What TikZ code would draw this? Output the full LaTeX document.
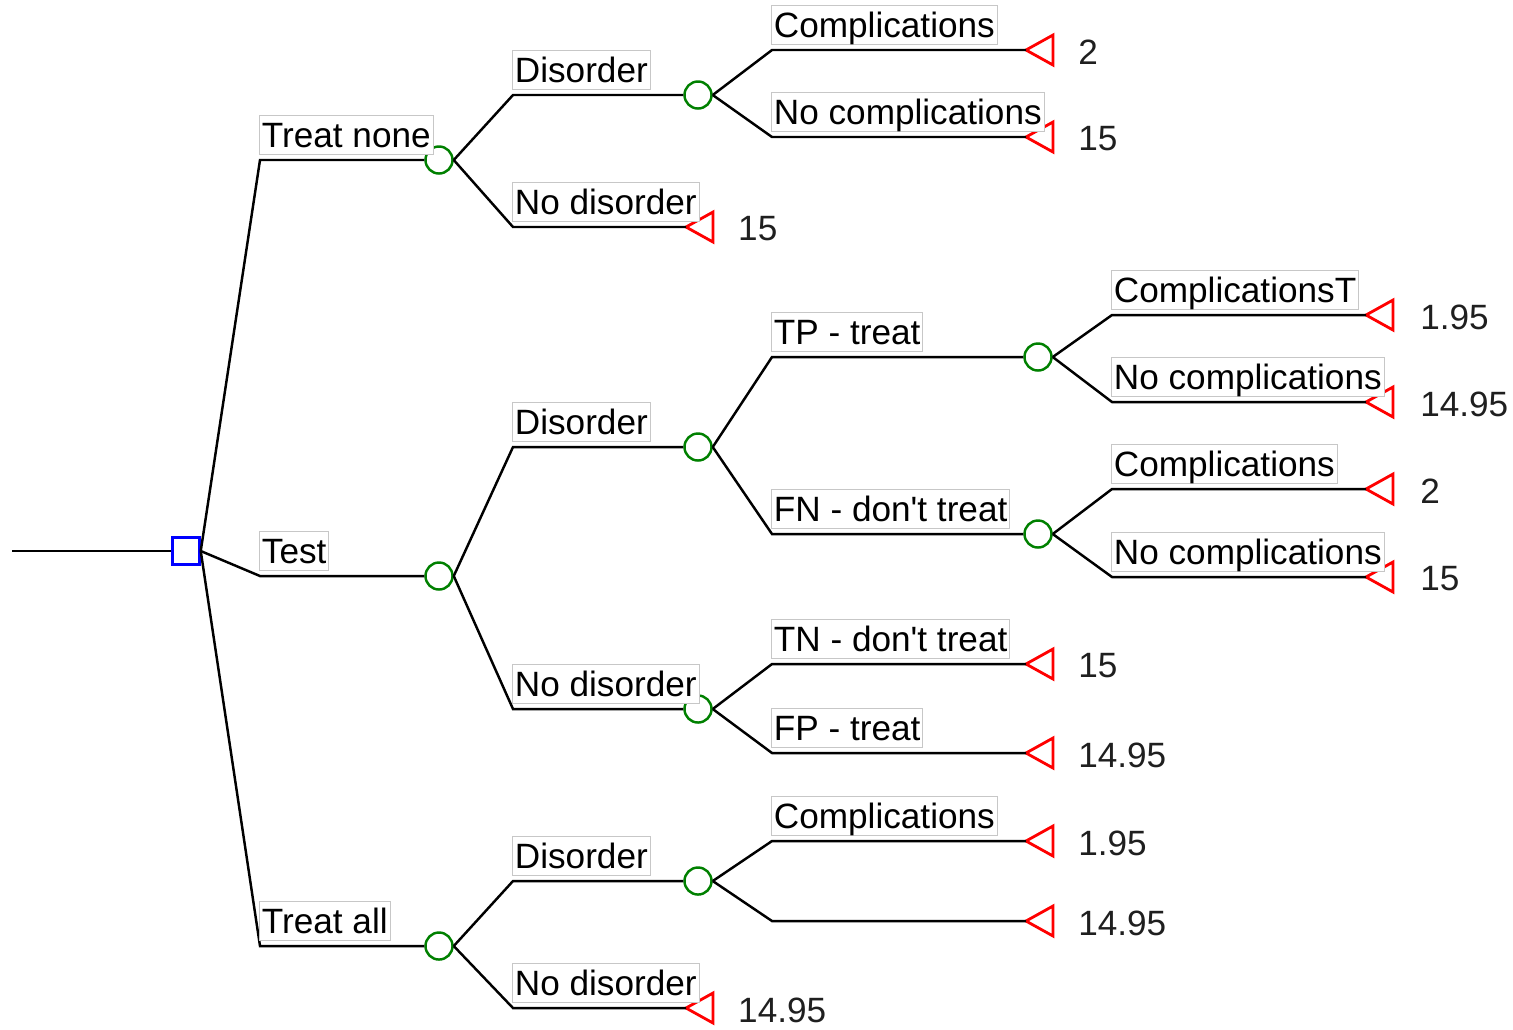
\documentclass[tikz,border=0pt]{standalone}
\usepackage{fontspec}
\newfontfamily\treefont{Liberation Sans}

\begin{document}
\begin{tikzpicture}[x=0.01cm, y=-0.01cm, line width=0.7pt, font=\fontsize{10}{12}\treefont]
	\tikzstyle{decision}=[draw=blue, rectangle, minimum size=0.27cm, inner sep=0pt]
	\tikzstyle{chance}=[draw=green!50!black, circle, minimum size=0.27cm, inner sep=0pt]
	\tikzstyle{term}=[draw=red, line width=0.8pt, line join=miter]
	\tikzstyle{lbl}=[draw=black!22, line width=0.3pt, fill=white, anchor=south west, inner xsep=0.7pt, inner ysep=0pt, text height=9.1pt, text depth=2pt, xshift=-0.3pt, yshift=1.3pt]
	\tikzstyle{val}=[anchor=west, inner sep=0pt, text=black!88]

	\useasboundingbox (0,0) rectangle (1513,1029);

	% decision
	\coordinate (start) at (12,551);
	\node[decision] (dec) at (186,551) {};
	\draw (start) -- (dec.west);

	% chance nodes
	\node[chance] (none) at (439,160) {};
	\node[chance] (none_dis) at (698,95) {};
	\node[chance] (test) at (439,576) {};
	\node[chance] (test_dis) at (698,447) {};
	\node[chance] (tp) at (1038,357) {};
	\node[chance] (fn) at (1038,534) {};
	\node[chance] (test_nodis) at (698,709) {};
	\node[chance] (all) at (439,946) {};
	\node[chance] (all_dis) at (698,881) {};

	% terminals
	\coordinate (none_comp) at (1026,50);
	\coordinate (none_nocomp) at (1026,137);
	\coordinate (none_nodis) at (686,227);
	\coordinate (tp_comp) at (1366,315);
	\coordinate (tp_nocomp) at (1366,402);
	\coordinate (fn_comp) at (1366,489);
	\coordinate (fn_nocomp) at (1366,577);
	\coordinate (tn) at (1026,664);
	\coordinate (fp) at (1026,753);
	\coordinate (all_comp) at (1026,841);
	\coordinate (all_nocomp) at (1026,921);
	\coordinate (all_nodis) at (686,1008);

	\foreach \t in {none_comp, none_nocomp, none_nodis, tp_comp, tp_nocomp, fn_comp, fn_nocomp, tn, fp, all_comp, all_nocomp, all_nodis}
		\draw[term] (\t) -- ++(27,-15) -- ++(0,30) -- cycle;

	% values
	\node[val] (v1) at (1077,52) {2};
	\node[val] (v2) at (1077,139) {15};
	\node[val] (v3) at (737,229) {15};
	\node[val] (v4) at (1419,317) {1.95};
	\node[val] (v5) at (1419,404) {14.95};
	\node[val] (v6) at (1419,491) {2};
	\node[val] (v7) at (1419,579) {15};
	\node[val] (v8) at (1077,666) {15};
	\node[val] (v9) at (1077,755) {14.95};
	\node[val] (v10) at (1077,843) {1.95};
	\node[val] (v11) at (1077,923) {14.95};
	\node[val] (v12) at (737,1010) {14.95};

	% branches
	% first level
	\draw (dec.east) -- (260,160) node[lbl]{Treat none} -- (none.west);
	\draw (dec.east) -- (260,576) node[lbl]{Test} -- (test.west);
	\draw (dec.east) -- (260,946) node[lbl]{Treat all} -- (all.west);

	% treat none
	\draw (none.east) -- (513,95) node[lbl]{Disorder} -- (none_dis.west);
	\draw (none.east) -- (513,227) node[lbl]{No disorder} -- (none_nodis);
	\draw (none_dis.east) -- (772,50) node[lbl]{Complications} -- (none_comp);
	\draw (none_dis.east) -- (772,137) node[lbl]{No complications} -- (none_nocomp);

	% test
	\draw (test.east) -- (513,447) node[lbl]{Disorder} -- (test_dis.west);
	\draw (test.east) -- (513,709) node[lbl]{No disorder} -- (test_nodis.west);
	\draw (test_dis.east) -- (772,357) node[lbl]{TP - treat} -- (tp.west);
	\draw (test_dis.east) -- (772,534) node[lbl]{FN - don't treat} -- (fn.west);
	\draw (tp.east) -- (1112,315) node[lbl]{ComplicationsT} -- (tp_comp);
	\draw (tp.east) -- (1112,402) node[lbl]{No complications} -- (tp_nocomp);
	\draw (fn.east) -- (1112,489) node[lbl]{Complications} -- (fn_comp);
	\draw (fn.east) -- (1112,577) node[lbl]{No complications} -- (fn_nocomp);
	\draw (test_nodis.east) -- (772,664) node[lbl]{TN - don't treat} -- (tn);
	\draw (test_nodis.east) -- (772,753) node[lbl]{FP - treat} -- (fp);

	% treat all
	\draw (all.east) -- (513,881) node[lbl]{Disorder} -- (all_dis.west);
	\draw (all.east) -- (513,1008) node[lbl]{No disorder} -- (all_nodis);
	\draw (all_dis.east) -- (772,841) node[lbl]{Complications} -- (all_comp);
	\draw (all_dis.east) -- (772,921) -- (all_nocomp);
\end{tikzpicture}
\end{document}
